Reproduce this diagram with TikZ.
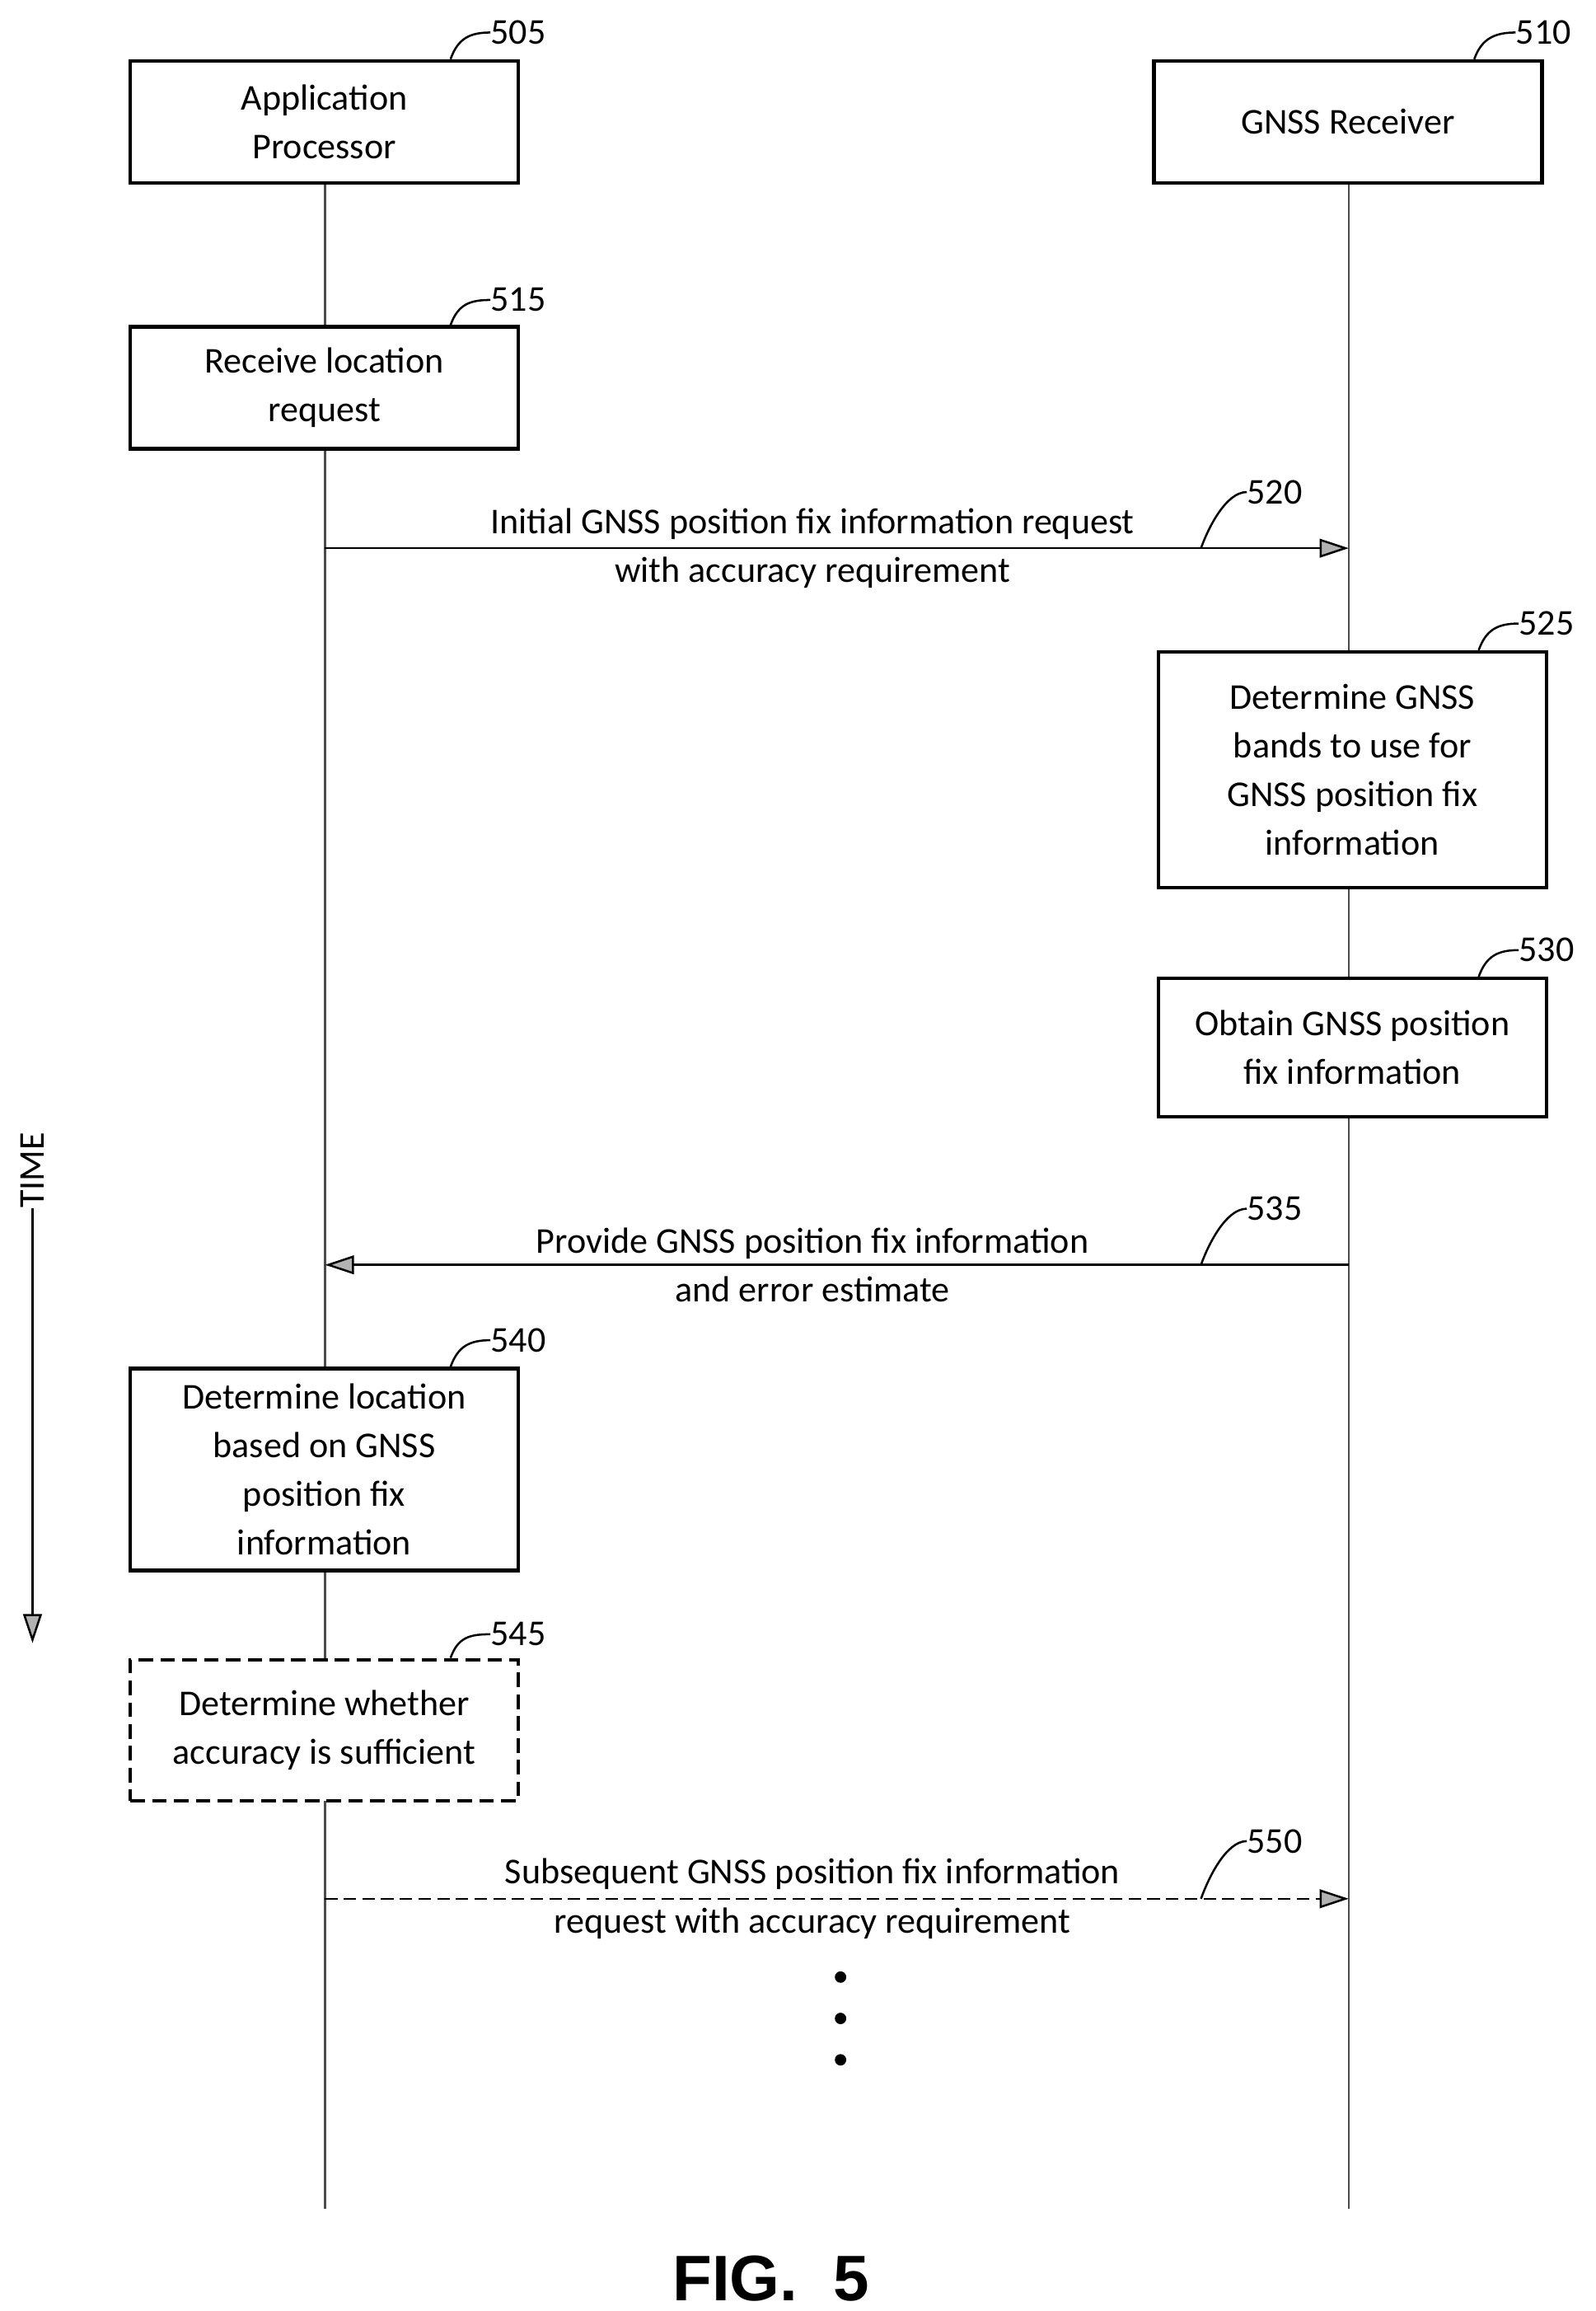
\documentclass[tikz,border=0pt]{standalone}
\usepackage{fontspec}
\setmainfont{Carlito}
\newfontfamily\figfont{Liberation Sans}
\usetikzlibrary{arrows.meta}
\begin{document}
\begin{tikzpicture}[x=0.05cm,y=-0.05cm,
 box/.style={draw,line width=3.5pt,align=center,inner sep=0pt,font=\fontsize{35}{47}\selectfont},
 lbl/.style={font=\fontsize{35}{40}\selectfont,inner sep=0pt,anchor=west},
 txt/.style={font=\fontsize{35}{47}\selectfont,align=center,inner sep=0pt},
 life/.style={line width=2pt,gray!60!black},
 msg/.style={line width=2pt,-{Triangle[length=28pt,width=18pt,fill=gray!60]}},
 sq/.style={line width=2pt}]
\useasboundingbox (0,0) rectangle (1080,1564);
% lifelines
\coordinate (lt) at (220,125); \coordinate (lb) at (220,1495);
\coordinate (rt) at (913,125); \coordinate (rb) at (913,1495);
\draw[life] (lt)--(lb); \draw[life] (rt)--(rb);
% boxes
\newcommand\bx[6]{\node[box,fill=white,minimum width=#4*0.05cm-3.5pt,minimum height=#5*0.05cm-3.5pt,#6] (#1) at (#2,#3) {};}
\bx{b505}{219.5}{82.5}{265}{85}{}
\bx{b510}{912.5}{82.5}{265}{85}{}
\bx{b515}{219.5}{262.5}{265}{85}{}
\bx{b525}{915.5}{521}{265}{162}{}
\bx{b530}{915.5}{709}{265}{96}{}
\bx{b540}{219.5}{994.5}{265}{139}{}
\bx{b545}{219.5}{1171}{265}{98}{dash pattern=on 14pt off 7pt}
\node[txt] at (b505) {Application\\Processor};
\node[txt] at (b510) {GNSS Receiver};
\node[txt] at (b515) {Receive location\\request};
\node[txt] at (b525) {Determine GNSS\\bands to use for\\GNSS position fix\\information};
\node[txt] at (b530) {Obtain GNSS position\\fix information};
\node[txt] at (b540) {Determine location\\based on GNSS\\position fix\\information};
\node[txt] at (b545) {Determine whether\\accuracy is sufficient};
% messages
\coordinate (m1a) at (220,371); \coordinate (m1b) at (913,371);
\draw[msg] (m1a)--(m1b);
\node[txt] (t520) at (550,371) {Initial GNSS position fix information request\\with accuracy requirement};
\coordinate (m2a) at (913,856); \coordinate (m2b) at (220,856);
\draw[msg] (m2a)--(m2b);
\node[txt] (t535) at (550,856) {Provide GNSS position fix information\\and error estimate};
\coordinate (m3a) at (220,1285); \coordinate (m3b) at (913,1285);
\draw[msg,dash pattern=on 12pt off 6pt] (m3a)--(m3b);
\node[txt] (t550) at (550,1285) {Subsequent GNSS position fix information\\request with accuracy requirement};
% dots
\foreach \y/\n in {1338/d1,1366/d2,1394/d3} \node[circle,fill,inner sep=0pt,minimum size=11pt] (\n) at (569,\y) {};
% reference labels
\newcommand\rl[5]{\node[lbl] (#1) at (#4,#5) {#1};
 \coordinate (#1s) at (#2,#3);
 \draw[sq] (#1s) .. controls ($(#1s)+(5,-14)$) and ($(#1.west)+(-14,0)$) .. (#1.west);}
\usetikzlibrary{calc}
\rl{505}{305}{40}{332}{22}
\rl{510}{998}{40}{1026}{22}
\rl{515}{305}{220}{332}{203}
\rl{520}{813}{371}{844}{333}
\rl{525}{1001}{440}{1028}{422}
\rl{530}{1001}{661}{1028}{643}
\rl{535}{813}{856}{844}{818}
\rl{540}{305}{925}{332}{907}
\rl{545}{305}{1122}{332}{1106}
\rl{550}{813}{1285}{844}{1246}
% time
\node[font=\fontsize{35}{40}\selectfont,rotate=90,inner sep=0pt] (time) at (22,792) {TIME};
\coordinate (te) at (22,1112);
\draw[line width=2pt,-{Triangle[length=28pt,width=18pt,fill=gray!60]}] (time.west)--(te);
\node[font=\figfont\bfseries\fontsize{62}{70}\selectfont,inner sep=0pt] (fig) at (522,1542) {FIG.\ \ 5};
\end{tikzpicture}
\end{document}
